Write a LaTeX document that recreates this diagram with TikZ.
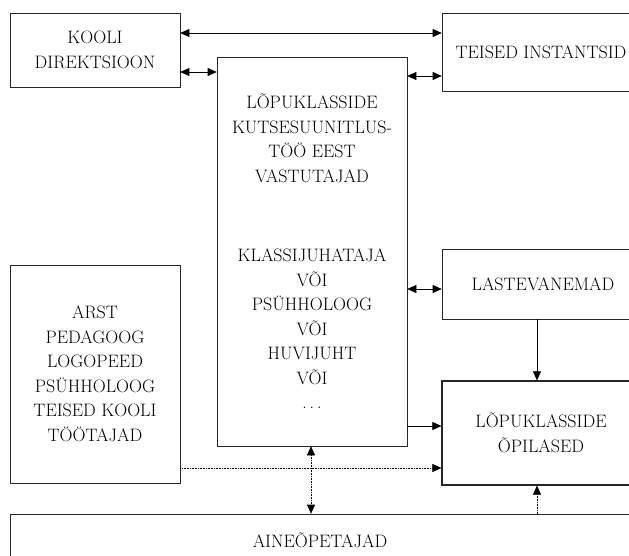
\documentclass[tikz,border=0pt]{standalone}
\usepackage{fontspec}
\usetikzlibrary{arrows.meta}

\begin{document}
\begin{tikzpicture}[x=1pt, y=-1pt, >={Triangle[length=9pt,width=8pt]}, semithick]
        \tikzset{
           box/.style={
                        rectangle,
                        draw=black!85,
                        fill=none,
                        text=black,
                        align=center,
                        inner sep=0pt,
                        font=\fontsize{18}{24.5}\selectfont
                       },
           dots/.style={densely dotted},
                 };
    \useasboundingbox (0,0) rectangle (629,556);
    \clip (0,0) rectangle (629,556);
    %--------------------
        \node[box, minimum width=170pt, minimum height=74pt]  (kooli)  at (95,50)    {KOOLI\\DIREKTSIOON};
        \node[box, minimum width=198pt, minimum height=78pt]  (teised) at (541,52)   {TEISED INSTANTSID};
        \node[box, minimum width=190pt, minimum height=389pt] (vastut) at (312,251.5)
             {LÕPUKLASSIDE\\KUTSESUUNITLUS-\\TÖÖ EEST\\VASTUTAJAD\\[55pt]
              KLASSIJUHATAJA\\VÕI\\PSÜHHOLOOG\\VÕI\\HUVIJUHT\\VÕI\\.\hspace{3pt}.\hspace{3pt}.};
        \node[box, minimum width=202pt, minimum height=70pt]  (vanem)  at (543,284)  {LASTEVANEMAD};
        \node[box, minimum width=170pt, minimum height=218pt] (arst)   at (95,374)
             {ARST\\PEDAGOOG\\LOGOPEED\\PSÜHHOLOOG\\TEISED KOOLI\\TÖÖTAJAD};
        \node[box, minimum width=198pt, minimum height=104pt, line width=1.2pt] (opil) at (541,433)
             {LÕPUKLASSIDE\\ÕPILASED};
        \node[box, minimum width=620pt, minimum height=52pt]  (aine)   at (320,540)  {AINEÕPETAJAD};
    %--------------------
        \path ([yshift=17pt]kooli.east)       edge[<->] ([yshift=19pt]teised.west)
              ([yshift=-22pt]kooli.east)      edge[<->] ([yshift=179.5pt]vastut.west)
              ([yshift=175.5pt]vastut.east)   edge[<->] ([yshift=-24pt]teised.west)
              ([yshift=-37.5pt]vastut.east)   edge[<->] ([yshift=-5pt]vanem.west)
              ([xshift=-6pt]vanem.south)      edge[->]  ([xshift=-4pt]opil.north)
              ([yshift=-174.5pt]vastut.east)  edge[->]  ([yshift=7pt]opil.west)
              ([yshift=-94pt]arst.east)       edge[->, dots]  ([yshift=-35pt]opil.west)
              ([xshift=-1pt]vastut.south)     edge[<->, dots] ([xshift=-9pt]aine.north)
              ([xshift=217pt]aine.north)      edge[->, dots]  ([xshift=-4pt]opil.south)
        ;
    \end{tikzpicture}
\end{document}
